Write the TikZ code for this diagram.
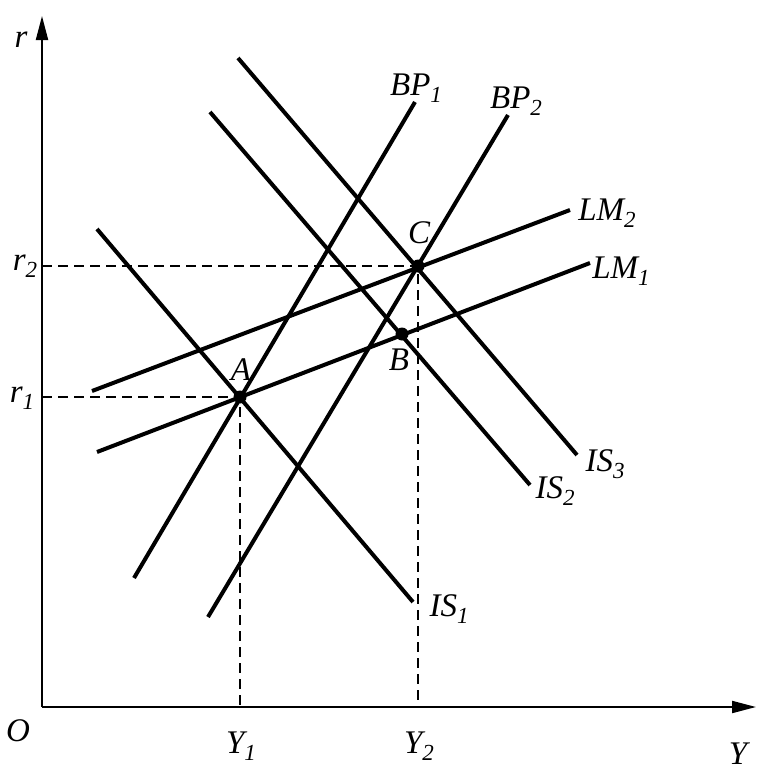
\documentclass[tikz,border=0pt]{standalone}
\usepackage{fontspec}
\setmainfont{Liberation Serif}
\usetikzlibrary{arrows.meta}
\newcommand\lbl[2]{\textit{#1}\raisebox{-0.45ex}{\fontsize{23}{23}\selectfont\textit{#2}}}
\begin{document}
\begin{tikzpicture}[x=1pt,y=-1pt,
  axis/.style={line width=2pt,-{Triangle[length=24pt,width=12pt]}},
  curve/.style={line width=4pt},
  guide/.style={line width=1.6pt,dash pattern=on 10pt off 6pt},
  dot/.style={circle,fill=black,inner sep=0pt,minimum size=13pt},
  txt/.style={font=\fontsize{33}{33}\selectfont\itshape,inner sep=0pt}]
\useasboundingbox (0,0) rectangle (781,771);
% axes
\coordinate (O) at (42,707);
\coordinate (ytop) at (42,16);
\coordinate (xend) at (756,707);
\draw[axis] (O) -- (ytop);
\draw[axis] (O) -- (xend);
% points
\node[dot] (A) at (240,397) {};
\node[dot] (B) at (402,334) {};
\node[dot] (C) at (418,266) {};
\coordinate (r1) at (42,397);
\coordinate (r2) at (42,266);
\coordinate (y1) at (240,707);
\coordinate (y2) at (418,707);
% guides
\draw[guide] (r1) -- (A.center) -- (y1);
\draw[guide] (r2) -- (C.center) -- (y2);
% curve ends
\coordinate (lm1a) at (97,452); \coordinate (lm1b) at (590,263);
\coordinate (lm2a) at (92,391); \coordinate (lm2b) at (570,210);
\coordinate (is1a) at (97,229); \coordinate (is1b) at (413,602);
\coordinate (is2a) at (210,112); \coordinate (is2b) at (530,485);
\coordinate (is3a) at (238,58); \coordinate (is3b) at (577,455);
\coordinate (bp1a) at (134,578); \coordinate (bp1b) at (415,102);
\coordinate (bp2a) at (208,617); \coordinate (bp2b) at (508,115);
\draw[curve] (lm1a) -- (lm1b);
\draw[curve] (lm2a) -- (lm2b);
\draw[curve] (is1a) -- (is1b);
\draw[curve] (is2a) -- (is2b);
\draw[curve] (is3a) -- (is3b);
\draw[curve] (bp1a) -- (bp1b);
\draw[curve] (bp2a) -- (bp2b);
% labels
\node[txt] (lr) at (21,40) {r};
\node[txt] (lO) at (18,731) {O};
\node[txt] (lY) at (738,754) {Y};
\node[txt] (lY1) at (241,746) {\lbl{Y}{1}};
\node[txt] (lY2) at (419,746) {\lbl{Y}{2}};
\node[txt] (lr2) at (25,266) {\lbl{r}{2}};
\node[txt] (lr1) at (22,398) {\lbl{r}{1}};
\node[txt] (lA) at (241,370) {A};
\node[txt] (lB) at (399,360) {B};
\node[txt] (lC) at (419,233) {C};
\node[txt] (lbp1) at (416,88) {\lbl{BP}{1}};
\node[txt] (lbp2) at (516,101) {\lbl{BP}{2}};
\node[txt] (llm2) at (607,213) {\lbl{LM}{2}};
\node[txt] (llm1) at (621,271) {\lbl{LM}{1}};
\node[txt] (lis3) at (605,464) {\lbl{IS}{3}};
\node[txt] (lis2) at (555,491) {\lbl{IS}{2}};
\node[txt] (lis1) at (449,609) {\lbl{IS}{1}};
\end{tikzpicture}
\end{document}
